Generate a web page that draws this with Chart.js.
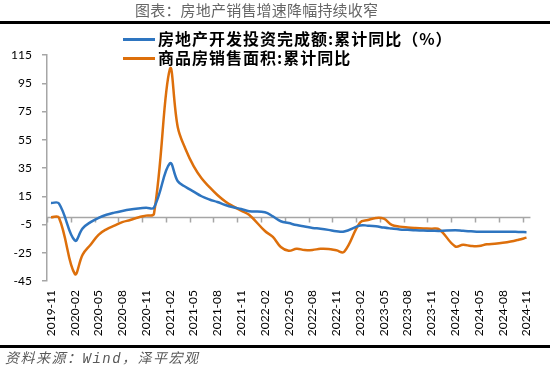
<!DOCTYPE html>
<html>
<head>
<meta charset="utf-8">
<script src="https://cdn.jsdelivr.net/npm/chart.js@4/dist/chart.umd.min.js"></script>
<style>
body { margin: 0; width: 550px; height: 372px; overflow: hidden; background: #fff; position: relative; font-family: "Noto Sans CJK SC", sans-serif; }
#chartBox { position: absolute; left: 0; top: 0; width: 550px; height: 372px; }
#title { position: absolute; left: 135px; top: 0; font-size: 15px; line-height: 20px; color: #666; letter-spacing: 0.2px; white-space: nowrap; }
.rule { position: absolute; left: 0; width: 550px; height: 3px; background: #000; }
.leg { position: absolute; left: 123px; height: 20px; line-height: 20px; font-size: 16px; font-weight: bold; color: #000; white-space: nowrap; letter-spacing: 1px; }
.leg i { display: inline-block; width: 32px; height: 3px; vertical-align: middle; margin-right: 3px; position: relative; top: -1px; }
#source { position: absolute; left: 5px; top: 348px; font-size: 14px; line-height: 18px; font-style: italic; color: #595959; letter-spacing: 1.5px; white-space: nowrap; }
#source span { font-family: "Liberation Mono", monospace; }
</style>
</head>
<body>
<div id="chartBox"><canvas id="myChart" width="550" height="372"></canvas></div>
<div id="title">图表：房地产销售增速降幅持续收窄</div>
<div class="rule" style="top:21px"></div>
<div class="leg" style="top:28px"><i style="background:#2e75c0"></i>房地产开发投资完成额:累计同比（%）</div>
<div class="leg" style="top:47px"><i style="background:#dd6f0b"></i>商品房销售面积:累计同比</div>
<div class="rule" style="top:345px"></div>
<div id="source">资料来源：<span>Wind</span>，泽平宏观</div>
<script>
const months = [
    '2019-11', '2019-12',
    '2020-01', '2020-02', '2020-03', '2020-04', '2020-05', '2020-06', '2020-07', '2020-08', '2020-09', '2020-10', '2020-11', '2020-12',
    '2021-01', '2021-02', '2021-03', '2021-04', '2021-05', '2021-06', '2021-07', '2021-08', '2021-09', '2021-10', '2021-11', '2021-12',
    '2022-01', '2022-02', '2022-03', '2022-04', '2022-05', '2022-06', '2022-07', '2022-08', '2022-09', '2022-10', '2022-11', '2022-12',
    '2023-01', '2023-02', '2023-03', '2023-04', '2023-05', '2023-06', '2023-07', '2023-08', '2023-09', '2023-10', '2023-11', '2023-12',
    '2024-01', '2024-02', '2024-03', '2024-04', '2024-05', '2024-06', '2024-07', '2024-08', '2024-09', '2024-10', '2024-11'
];

// 房地产开发投资完成额:累计同比 (January not published)
const investYoy = [
    10.2, 9.9,
    null, -16.3, -7.7, -3.3, -0.3, 1.9, 3.4, 4.6, 5.6, 6.3, 6.8, 7.0,
    null, 38.3, 25.6, 21.6, 18.3, 15.0, 12.7, 10.9, 8.8, 7.2, 6.0, 4.4,
    null, 3.7, 0.7, -2.7, -4.0, -5.4, -6.4, -7.4, -8.0, -8.8, -9.8, -10.0,
    null, -5.7, -5.8, -6.2, -7.2, -7.9, -8.5, -8.8, -9.1, -9.3, -9.4, -9.6,
    null, -9.0, -9.5, -9.8, -10.1, -10.1, -10.2, -10.2, -10.1, -10.3, -10.4
];

// 商品房销售面积:累计同比
const salesYoy = [
    0.2, -0.1,
    null, -39.9, -26.3, -19.3, -12.3, -8.4, -5.8, -3.3, -1.8, 0.0, 1.3, 2.6,
    null, 104.9, 63.8, 48.1, 36.3, 27.7, 21.5, 15.9, 11.3, 7.8, 4.8, 1.9,
    null, -9.6, -13.8, -20.9, -23.6, -22.2, -23.1, -23.0, -22.2, -22.3, -23.3, -24.3,
    null, -3.6, -1.8, -0.4, -0.9, -5.3, -6.5, -7.1, -7.5, -7.8, -8.0, -8.5,
    null, -20.5, -19.4, -20.2, -20.3, -19.0, -18.6, -18.0, -17.1, -15.8, -14.3
];

const yMin = -45;
const yMax = 115;
const yStep = 20;

// horizontal axis line at 0 with tick marks every 3 months
const zeroAxis = {
    id: 'zeroAxis',
    beforeDatasetsDraw(chart) {
        const { ctx, chartArea, scales: { x, y } } = chart;
        const y0 = Math.round(y.getPixelForValue(0)) + 0.5;
        const half = (x.getPixelForValue(1) - x.getPixelForValue(0)) / 2;
        ctx.save();
        ctx.strokeStyle = '#a6a6a6';
        ctx.lineWidth = 1.5;
        ctx.beginPath();
        ctx.moveTo(chartArea.left, y0);
        ctx.lineTo(chartArea.right, y0);
        for (let i = 0; i < months.length; i += 3) {
            const px = Math.round(x.getPixelForValue(i) - half) + 0.5;
            ctx.moveTo(px, y0);
            ctx.lineTo(px, y0 + 5);
        }
        ctx.stroke();
        ctx.restore();
    }
};

const ctx = document.getElementById('myChart').getContext('2d');
const myChart = new Chart(ctx, {
    type: 'line',
    data: {
        labels: months,
        datasets: [{
            label: '房地产开发投资完成额:累计同比（%）',
            data: investYoy,
            borderColor: '#2e75c0',
            borderWidth: 2.5,
            pointRadius: 0,
            tension: 0.4,
            spanGaps: true
        }, {
            label: '商品房销售面积:累计同比',
            data: salesYoy,
            borderColor: '#dd6f0b',
            borderWidth: 2.5,
            pointRadius: 0,
            tension: 0.4,
            spanGaps: true
        }]
    },
    options: {
        responsive: false,
        animation: false,
        layout: { padding: { top: 55, right: 12, left: 0, bottom: 0 } },
        plugins: {
            legend: { display: false },
            tooltip: { enabled: false }
        },
        scales: {
            x: {
                offset: true,
                grid: { display: false, drawTicks: false },
                border: { display: false },
                ticks: {
                    autoSkip: false,
                    minRotation: 90,
                    maxRotation: 90,
                    padding: 9,
                    color: '#000',
                    font: { family: 'Lato', size: 12 },
                    callback: function (v, i) { return i % 3 === 0 ? months[i] : ''; }
                },
                afterFit(s) { s.height = 91; }
            },
            y: {
                min: yMin,
                max: yMax,
                ticks: {
                    stepSize: yStep,
                    padding: 10,
                    color: '#000',
                    font: { family: 'Lato', size: 12 }
                },
                grid: { drawOnChartArea: false, drawTicks: true, tickLength: 5, color: '#a6a6a6', lineWidth: 1.5 },
                border: { display: true, color: '#a6a6a6', width: 1.5 },
                afterFit(s) { s.width = 47; }
            }
        }
    },
    plugins: [zeroAxis]
});
</script>
</body>
</html>
